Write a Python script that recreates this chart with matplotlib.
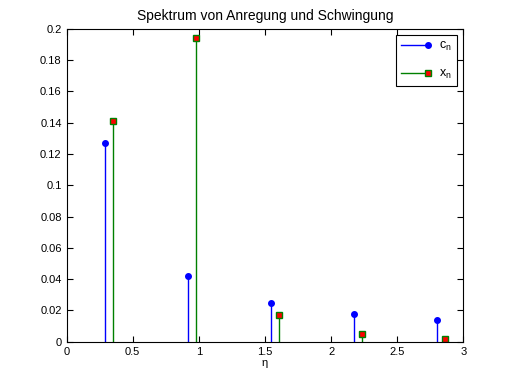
import matplotlib.pyplot as plt
from matplotlib.lines import Line2D
from matplotlib.legend_handler import HandlerBase
from matplotlib.ticker import FormatStrFormatter, MultipleLocator

plt.rcParams['font.family'] = ['Liberation Sans', 'DejaVu Sans']
plt.rcParams['font.size'] = 8

eta_c = [0.287, 0.915, 1.543, 2.170, 2.798]
c_n = [0.127, 0.042, 0.025, 0.018, 0.014]
eta_x = [0.348, 0.976, 1.603, 2.231, 2.859]
x_n = [0.141, 0.194, 0.017, 0.005, 0.002]


# stem legend like matlab: line with the marker at its right end
class StemHandler(HandlerBase):
    def create_artists(self, legend, orig, xdescent, ydescent, width, height,
                       fontsize, trans):
        y = height / 2 - ydescent
        x0, x1 = -xdescent, -xdescent + width
        line = Line2D([x0, x1], [y, y], color=orig.get_color(),
                      linewidth=orig.get_linewidth())
        mark = Line2D([x1], [y], linestyle='none', marker=orig.get_marker(),
                      markersize=orig.get_markersize(),
                      markerfacecolor=orig.get_markerfacecolor(),
                      markeredgecolor=orig.get_markeredgecolor())
        line.set_transform(trans)
        mark.set_transform(trans)
        return [line, mark]


fig = plt.figure(figsize=(5.12, 3.84), dpi=100)
ax = fig.add_axes([0.13, 0.11, 0.775, 0.815])

m, s, b = ax.stem(eta_c, c_n, linefmt='b-', markerfmt='bo', basefmt=' ')
plt.setp(s, linewidth=1)
plt.setp(m, markersize=4)
m, s, b = ax.stem(eta_x, x_n, linefmt='g-', markerfmt='s', basefmt=' ')
plt.setp(s, linewidth=1, color='green')
plt.setp(m, markersize=4, markerfacecolor='red', markeredgecolor='green', markeredgewidth=1)

ax.set_xlim(0, 3)
ax.set_ylim(0, 0.2)
ax.xaxis.set_major_locator(MultipleLocator(0.5))
ax.yaxis.set_major_locator(MultipleLocator(0.02))
ax.xaxis.set_major_formatter(FormatStrFormatter('%g'))
ax.yaxis.set_major_formatter(FormatStrFormatter('%g'))
ax.tick_params(direction='in', top=True, right=True, length=4, width=0.8)
for sp in ax.spines.values():
    sp.set_linewidth(0.8)

ax.set_title('Spektrum von Anregung und Schwingung', fontsize=10)
ax.set_xlabel('η', labelpad=1)

h1 = Line2D([], [], color='blue', linewidth=1, marker='o', markersize=4,
            markerfacecolor='blue', markeredgecolor='blue')
h2 = Line2D([], [], color='green', linewidth=1, marker='s', markersize=4,
            markerfacecolor='red', markeredgecolor='green')
leg = ax.legend([h1, h2], ['$\\mathregular{c_n}$', '$\\mathregular{x_n}$'],
                loc='upper right', fancybox=False, framealpha=1,
                edgecolor='black', handlelength=2.2, handletextpad=0.9,
                borderaxespad=0.5, labelspacing=1.2, fontsize=9,
                handler_map={Line2D: StemHandler()})
leg.get_frame().set_linewidth(0.8)

fig.savefig('out.png', dpi=100)
